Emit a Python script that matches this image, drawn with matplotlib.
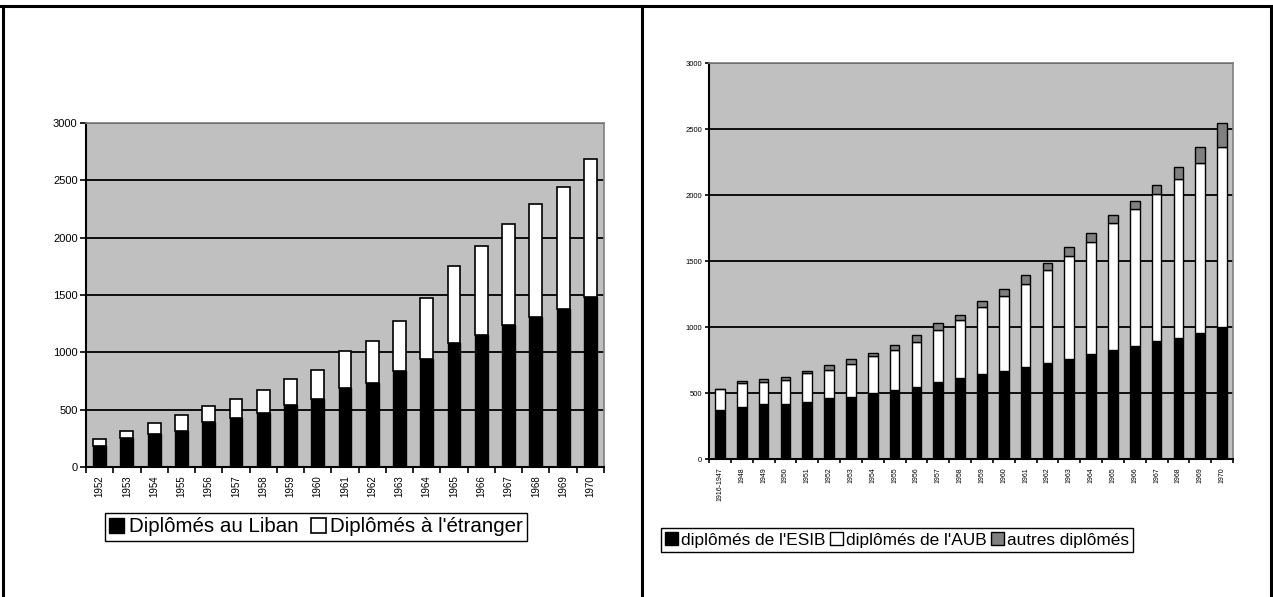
import matplotlib.pyplot as plt
import numpy as np
from matplotlib.lines import Line2D

plt.rcParams['font.family'] = ['Liberation Sans', 'DejaVu Sans']

# Left chart data
years_left = ['1952', '1953', '1954', '1955', '1956', '1957', '1958', '1959', '1960', '1961',
              '1962', '1963', '1964', '1965', '1966', '1967', '1968', '1969', '1970']
liban = [180, 250, 285, 315, 390, 425, 475, 545, 595, 685,
         735, 840, 945, 1080, 1155, 1240, 1305, 1375, 1480]
etranger = [60, 60, 95, 135, 145, 165, 200, 220, 255, 325,
            360, 430, 525, 675, 775, 875, 985, 1070, 1210]

# Right chart data
years_right = ['1916-1947', '1948', '1949', '1950', '1951', '1952', '1953', '1954', '1955', '1956',
               '1957', '1958', '1959', '1960', '1961', '1962', '1963', '1964', '1965', '1966',
               '1967', '1968', '1969', '1970']
esib = [370, 397, 415, 415, 430, 460, 473, 503, 523, 549,
        581, 612, 642, 670, 700, 731, 761, 794, 822, 854,
        897, 913, 958, 1001]
aub = [158, 177, 169, 184, 220, 215, 247, 278, 304, 341,
       397, 442, 508, 566, 627, 702, 779, 852, 963, 1037,
       1113, 1208, 1284, 1360]
autres = [0, 18, 23, 20, 17, 40, 38, 20, 38, 50,
          56, 38, 48, 53, 68, 51, 68, 68, 65, 66,
          66, 91, 122, 185]

W, H = 1273, 597
fig = plt.figure(figsize=(W / 100, H / 100), dpi=100)


def style_axes(ax, n, ylabel_size, xlabel_size, labels):
    ax.set_facecolor('#C0C0C0')
    ax.set_xlim(-0.5, n - 0.5)
    ax.set_ylim(0, 3000)
    ax.set_yticks(np.arange(0, 3001, 500))
    ax.yaxis.grid(True, color='black', linewidth=1.3)
    ax.set_axisbelow(True)
    for s in ['top', 'right']:
        ax.spines[s].set_color('#808080')
        ax.spines[s].set_linewidth(1.2)
    for s in ['left', 'bottom']:
        ax.spines[s].set_color('black')
        ax.spines[s].set_linewidth(1.5)
    ax.set_xticks(np.arange(n))
    ax.set_xticklabels(labels, rotation=90, fontsize=xlabel_size)
    ax.set_xticks(np.arange(-0.5, n), minor=True)
    ax.tick_params(axis='x', which='major', length=0, pad=6)
    ax.tick_params(axis='x', which='minor', length=4, width=1.2, direction='out')
    ax.tick_params(axis='y', length=4, width=1.2, labelsize=ylabel_size, pad=2)


# ---- left chart ----
ax1 = fig.add_axes([86 / W, 1 - 467 / H, 518 / W, 344 / H])
x1 = np.arange(len(years_left))
b1 = ax1.bar(x1, liban, 0.47, color='black', edgecolor='black', linewidth=1, label='Diplômés au Liban')
b2 = ax1.bar(x1, etranger, 0.47, bottom=liban, color='white', edgecolor='black', linewidth=1.2,
             label="Diplômés à l'étranger")
style_axes(ax1, len(years_left), 8, 7, years_left)
fig.legend(handles=[b1, b2], loc='center', bbox_to_anchor=(316 / W, 1 - 527 / H),
           bbox_transform=fig.transFigure, ncol=2, fontsize=14.8, frameon=True, fancybox=False,
           edgecolor='black', framealpha=1, handlelength=0.75, handleheight=0.75,
           handletextpad=0.2, columnspacing=0.6, borderpad=0.2, borderaxespad=0)

# ---- right chart ----
ax2 = fig.add_axes([709 / W, 1 - 459 / H, 524 / W, 396 / H])
x2 = np.arange(len(years_right))
bot2 = np.array(esib) + np.array(aub)
c1 = ax2.bar(x2, esib, 0.44, color='black', edgecolor='black', linewidth=1, label="diplômés de l'ESIB")
c2 = ax2.bar(x2, aub, 0.44, bottom=esib, color='white', edgecolor='black', linewidth=1,
             label="diplômés de l'AUB")
c3 = ax2.bar(x2, autres, 0.44, bottom=bot2, color='#808080', edgecolor='black', linewidth=1,
             label='autres diplômés')
style_axes(ax2, len(years_right), 5.5, 5, years_right)
ax2.tick_params(axis='x', which='minor', length=3)
ax2.tick_params(axis='y', length=3)
fig.legend(handles=[c1, c2, c3], loc='center', bbox_to_anchor=(897 / W, 1 - 540 / H),
           bbox_transform=fig.transFigure, ncol=3, fontsize=12.4, frameon=True, fancybox=False,
           edgecolor='black', framealpha=1, handlelength=0.75, handleheight=0.75,
           handletextpad=0.15, columnspacing=0.3, borderpad=0.25, borderaxespad=0)

# outer frame
lw = 2.2
fig.add_artist(Line2D([0, 1], [1 - 5.5 / H, 1 - 5.5 / H], color='black', linewidth=lw,
                      transform=fig.transFigure))
for xp in [2.5, 641.5, 1270.5]:
    fig.add_artist(Line2D([xp / W, xp / W], [0, 1 - 5.5 / H], color='black', linewidth=lw,
                          transform=fig.transFigure))

fig.savefig('out.png', dpi=100)
